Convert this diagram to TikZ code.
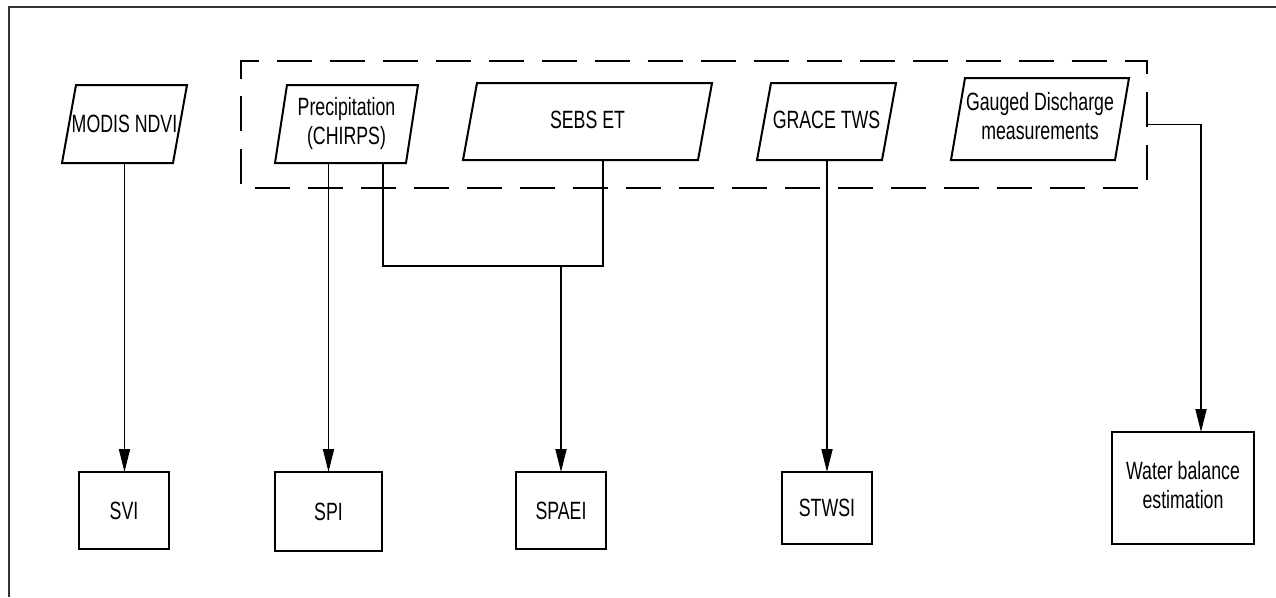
\documentclass[tikz,border=0pt]{standalone}
\usepackage{fontspec}
\setmainfont{Liberation Sans}
\usepackage{graphicx}
\usetikzlibrary{arrows.meta,calc}

% narrow lettering used in every label
\newcommand\sq[1]{\scalebox{0.71}[1]{#1}}
\newcommand\twolines[2]{\sq{\begin{tabular}{@{}c@{}}#1\\#2\end{tabular}}}
% slanted data-source outline drawn over a named node
\newcommand\slant[2]{\draw[outline] ([xshift=#2]#1.north west) -- (#1.north east)
  -- ([xshift=-#2]#1.south east) -- (#1.south west) -- cycle;}

\begin{document}
\begin{tikzpicture}[x=1pt,y=-1pt,
  every node/.style={font=\fontsize{25}{29}\selectfont, inner sep=0pt, outer sep=0pt},
  outline/.style={line width=2pt, line join=miter},
  source/.style={draw=none, minimum width=#1},
  result/.style={draw, line width=2pt},
  link/.style={line width=1.8pt},
  arr/.style={link, -{Triangle[length=23pt,width=11pt]}},
  groupline/.style={line width=2.8pt, dash pattern=on 35pt off 18pt},
  frameline/.style={line width=1.5pt, black!80}]

\useasboundingbox (0,0) rectangle (1276,597);

% page frame
\draw[frameline] (9,597) -- (9,7) -- (1276,7);

% input data sets
\node[source=125pt, minimum height=78pt] (modis) at (124.5,124) {\sq{MODIS NDVI}};
\node[source=143pt, minimum height=78pt] (prec)  at (346.5,124) {\twolines{Precipitation}{(CHIRPS)}};
\node[source=249pt, minimum height=77pt] (sebs)  at (587.5,121.5) {\raisebox{3pt}{\sq{SEBS ET}}};
\node[source=139pt, minimum height=77pt] (grace) at (826.5,121.5) {\raisebox{3pt}{\sq{GRACE TWS}}};
\node[source=178pt, minimum height=82pt] (gauge) at (1040,119) {\raisebox{3pt}{\twolines{Gauged Discharge}{measurements}}};
\slant{modis}{14pt}
\slant{prec}{12pt}
\slant{sebs}{14pt}
\slant{grace}{14pt}
\slant{gauge}{14pt}

% group of remote-sensing / gauge inputs
\node[minimum width=906pt, minimum height=127pt] (grp) at (694,124.5) {};
\draw[groupline] ([yshift=-17.5pt]grp.north west) -- (grp.north west) -- (grp.north east)
  -- (grp.south east) -- (grp.south west) -- cycle;

% derived indices
\node[result, minimum width=90pt,  minimum height=77pt]  (svi)   at (124,510.5) {\sq{SVI}};
\node[result, minimum width=107pt, minimum height=79pt]  (spi)   at (328.5,511.5) {\sq{SPI}};
\node[result, minimum width=90pt,  minimum height=77pt]  (spaei) at (561,510.5) {\sq{SPAEI}};
\node[result, minimum width=90pt,  minimum height=72pt]  (stwsi) at (827,508) {\sq{STWSI}};
\node[result, minimum width=142pt, minimum height=112pt] (wb)    at (1183,488) {\twolines{Water balance}{estimation}};

% connectors
\coordinate (jl) at (383,266);
\coordinate (jr) at (603,266);
\draw[arr] (modis.south) -- (modis.south |- svi.north);
\draw[arr] (spi.north |- prec.south) -- (spi.north);
\draw[link] (jl |- prec.south) -- (jl) -- (jr) -- (jr |- sebs.south);
\draw[arr] (spaei.north |- jl) -- (spaei.north);
\draw[arr] (stwsi.north |- grace.south) -- (stwsi.north);
\draw[arr] (grp.east) -| ([xshift=18pt]wb.north);

\end{tikzpicture}
\end{document}
